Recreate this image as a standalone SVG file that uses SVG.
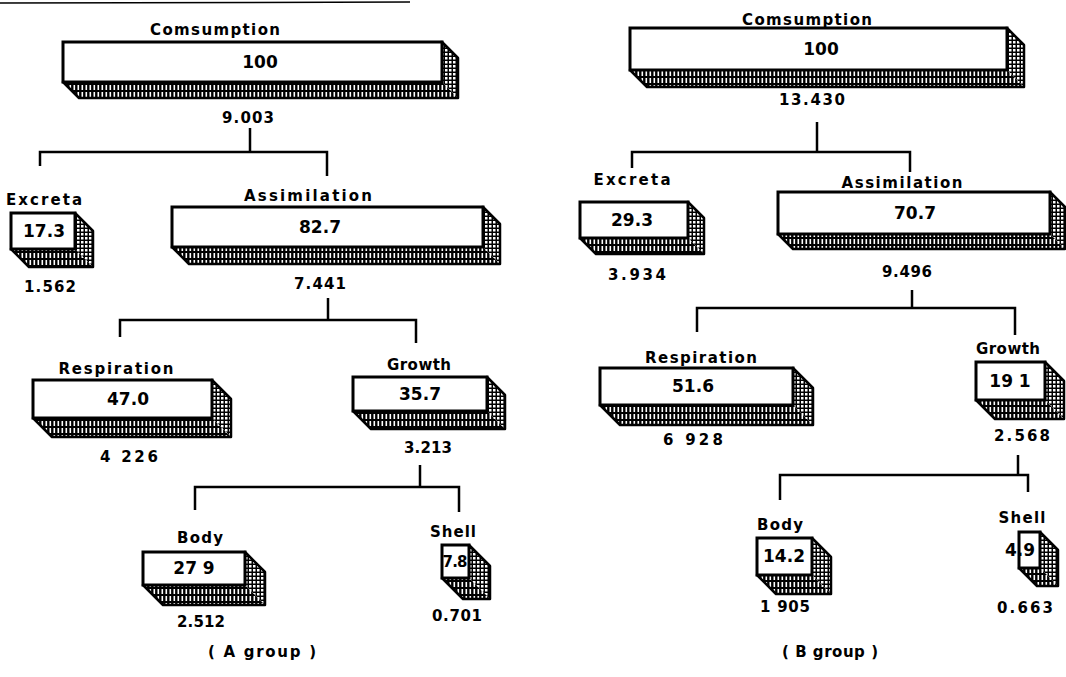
<svg xmlns="http://www.w3.org/2000/svg" width="1066" height="677" viewBox="0 0 1066 677">
<defs>
<pattern id="dots" width="4" height="4" patternUnits="userSpaceOnUse"><rect width="4" height="4" fill="#000"/><rect x="1" y="1" width="2.5" height="2.5" fill="#fff"/></pattern>
<pattern id="hatch" width="4" height="7" patternUnits="userSpaceOnUse"><rect width="4" height="7" fill="#000"/><rect x="1.5" y="1" width="1.6" height="5" fill="#fff"/></pattern>
<style>
.lbl{font-family:"DejaVu Sans","Liberation Sans",sans-serif;font-weight:bold;font-size:15px;text-anchor:middle;fill:#000}
.val{font-family:"DejaVu Sans","Liberation Sans",sans-serif;font-weight:bold;font-size:17px;text-anchor:middle;fill:#000}
.num{font-family:"DejaVu Sans","Liberation Sans",sans-serif;font-weight:bold;font-size:15px;text-anchor:middle;fill:#000}
.face{fill:#fff;stroke:#000;stroke-width:3}
.side{fill:url(#dots)}
.bot{fill:url(#hatch)}
.edge{fill:none;stroke:#000;stroke-width:2.5;stroke-linejoin:round}
.conn path{fill:none;stroke:#000;stroke-width:2.5}
</style>
</defs>
<rect width="1066" height="677" fill="#fff"/>
<line x1="0" y1="3" x2="410" y2="2" stroke="#000" stroke-width="1.5"/>

<g class="conn" id="connectors">
<path d="M250 128 V152"/><path d="M40 166 V152 H327 V176"/>
<path d="M328 298 V320"/><path d="M120 337 V320 H416 V343"/>
<path d="M420 465 V487"/><path d="M195 510 V487 H459 V512"/>
<path d="M817 122 V152"/><path d="M632 168 V152 H910 V172"/>
<path d="M912 290 V308"/><path d="M697 332 V308 H1015 V335"/>
<path d="M1018 455 V475"/><path d="M780 500 V475 H1028 V492"/>
</g>

<g id="a-consumption">
<text class="lbl" x="215" y="35" textLength="130">Comsumption</text>
<polygon class="side" points="442,42 458,58 458,98 442,82"/>
<polygon class="bot" points="63,82 442,82 458,98 79,98"/>
<polygon class="edge" points="442,42 458,58 458,98 79,98 63,82"/>
<rect class="face" x="63" y="42" width="379" height="40"/>
<text class="val" x="260" y="68">100</text>
<text class="num" x="248" y="123" textLength="52">9.003</text>
</g>

<g id="a-excreta">
<text class="lbl" x="44" y="205" textLength="76">Excreta</text>
<polygon class="side" points="75,213 93,231 93,267 75,249"/>
<polygon class="bot" points="11,249 75,249 93,267 29,267"/>
<polygon class="edge" points="75,213 93,231 93,267 29,267 11,249"/>
<rect class="face" x="11" y="213" width="64" height="36"/>
<text class="val" x="44" y="237">17.3</text>
<text class="num" x="50" y="292" textLength="52">1.562</text>
</g>

<g id="a-assimilation">
<text class="lbl" x="308" y="201" textLength="128">Assimilation</text>
<polygon class="side" points="483,207 500,224 500,264 483,247"/>
<polygon class="bot" points="172,247 483,247 500,264 189,264"/>
<polygon class="edge" points="483,207 500,224 500,264 189,264 172,247"/>
<rect class="face" x="172" y="207" width="311" height="40"/>
<text class="val" x="320" y="233">82.7</text>
<text class="num" x="320" y="289" textLength="52">7.441</text>
</g>

<g id="a-respiration">
<text class="lbl" x="116" y="374" textLength="115">Respiration</text>
<polygon class="side" points="212,380 231,399 231,437 212,418"/>
<polygon class="bot" points="33,418 212,418 231,437 52,437"/>
<polygon class="edge" points="212,380 231,399 231,437 52,437 33,418"/>
<rect class="face" x="33" y="380" width="179" height="38"/>
<text class="val" x="128" y="405">47.0</text>
<text class="num" x="129" y="462" textLength="58">4 226</text>
</g>

<g id="a-growth">
<text class="lbl" x="419" y="370" textLength="64">Growth</text>
<polygon class="side" points="487,377 505,395 505,429 487,411"/>
<polygon class="bot" points="353,411 487,411 505,429 371,429"/>
<polygon class="edge" points="487,377 505,395 505,429 371,429 353,411"/>
<rect class="face" x="353" y="377" width="134" height="34"/>
<text class="val" x="420" y="400">35.7</text>
<text class="num" x="428" y="453" textLength="48">3.213</text>
</g>

<g id="a-body">
<text class="lbl" x="200" y="543" textLength="46">Body</text>
<polygon class="side" points="245,552 265,572 265,605 245,585"/>
<polygon class="bot" points="143,585 245,585 265,605 163,605"/>
<polygon class="edge" points="245,552 265,572 265,605 163,605 143,585"/>
<rect class="face" x="143" y="552" width="102" height="33"/>
<text class="val" x="194" y="574">27 9</text>
<text class="num" x="201" y="627" textLength="48">2.512</text>
</g>

<g id="a-shell">
<text class="lbl" x="453" y="537" textLength="46">Shell</text>
<polygon class="side" points="469,545 490,566 490,599 469,578"/>
<polygon class="bot" points="442,578 469,578 490,599 463,599"/>
<polygon class="edge" points="469,545 490,566 490,599 463,599 442,578"/>
<rect class="face" x="442" y="545" width="27" height="33"/>
<text class="num" x="455" y="567" textLength="25">7.8</text>
<text class="num" x="457" y="621" textLength="50">0.701</text>
</g>

<g id="a-caption">
<text class="num" x="262" y="657" textLength="108">( A group )</text>
</g>

<g id="b-consumption">
<text class="lbl" x="807" y="25" textLength="130">Comsumption</text>
<polygon class="side" points="1007,28 1024,45 1024,87 1007,70"/>
<polygon class="bot" points="630,70 1007,70 1024,87 647,87"/>
<polygon class="edge" points="1007,28 1024,45 1024,87 647,87 630,70"/>
<rect class="face" x="630" y="28" width="377" height="42"/>
<text class="val" x="821" y="55">100</text>
<text class="num" x="812" y="105" textLength="66">13.430</text>
</g>

<g id="b-excreta">
<text class="lbl" x="632" y="185" textLength="77">Excreta</text>
<polygon class="side" points="688,202 704,218 704,254 688,238"/>
<polygon class="bot" points="580,238 688,238 704,254 596,254"/>
<polygon class="edge" points="688,202 704,218 704,254 596,254 580,238"/>
<rect class="face" x="580" y="202" width="108" height="36"/>
<text class="val" x="632" y="226">29.3</text>
<text class="num" x="637" y="280" textLength="58">3.934</text>
</g>

<g id="b-assimilation">
<text class="lbl" x="902" y="188" textLength="121">Assimilation</text>
<polygon class="side" points="1050,192 1065,207 1065,249 1050,234"/>
<polygon class="bot" points="778,234 1050,234 1065,249 793,249"/>
<polygon class="edge" points="1050,192 1065,207 1065,249 793,249 778,234"/>
<rect class="face" x="778" y="192" width="272" height="42"/>
<text class="val" x="915" y="219">70.7</text>
<text class="num" x="907" y="277" textLength="50">9.496</text>
</g>

<g id="b-respiration">
<text class="lbl" x="701" y="363" textLength="112">Respiration</text>
<polygon class="side" points="793,368 813,388 813,425 793,405"/>
<polygon class="bot" points="600,405 793,405 813,425 620,425"/>
<polygon class="edge" points="793,368 813,388 813,425 620,425 600,405"/>
<rect class="face" x="600" y="368" width="193" height="37"/>
<text class="val" x="693" y="392">51.6</text>
<text class="num" x="693" y="445" textLength="60">6 928</text>
</g>

<g id="b-growth">
<text class="lbl" x="1008" y="354" textLength="64">Growth</text>
<polygon class="side" points="1045,362 1064,381 1064,419 1045,400"/>
<polygon class="bot" points="976,400 1045,400 1064,419 995,419"/>
<polygon class="edge" points="1045,362 1064,381 1064,419 995,419 976,400"/>
<rect class="face" x="976" y="362" width="69" height="38"/>
<text class="val" x="1010" y="387">19 1</text>
<text class="num" x="1022" y="441" textLength="56">2.568</text>
</g>

<g id="b-body">
<text class="lbl" x="780" y="530" textLength="46">Body</text>
<polygon class="side" points="812,538 831,557 831,594 812,575"/>
<polygon class="bot" points="757,575 812,575 831,594 776,594"/>
<polygon class="edge" points="812,538 831,557 831,594 776,594 757,575"/>
<rect class="face" x="757" y="538" width="55" height="37"/>
<text class="val" x="784" y="562">14.2</text>
<text class="num" x="785" y="612" textLength="50">1 905</text>
</g>

<g id="b-shell">
<text class="lbl" x="1022" y="523" textLength="47">Shell</text>
<polygon class="side" points="1040,532 1058,550 1058,586 1040,568"/>
<polygon class="bot" points="1019,568 1040,568 1058,586 1037,586"/>
<polygon class="edge" points="1040,532 1058,550 1058,586 1037,586 1019,568"/>
<rect class="face" x="1019" y="532" width="21" height="36"/>
<text class="val" x="1020" y="556">4.9</text>
<text class="num" x="1025" y="613" textLength="56">0.663</text>
</g>

<g id="b-caption">
<text class="num" x="830" y="657" textLength="96">( B group )</text>
</g>
</svg>
